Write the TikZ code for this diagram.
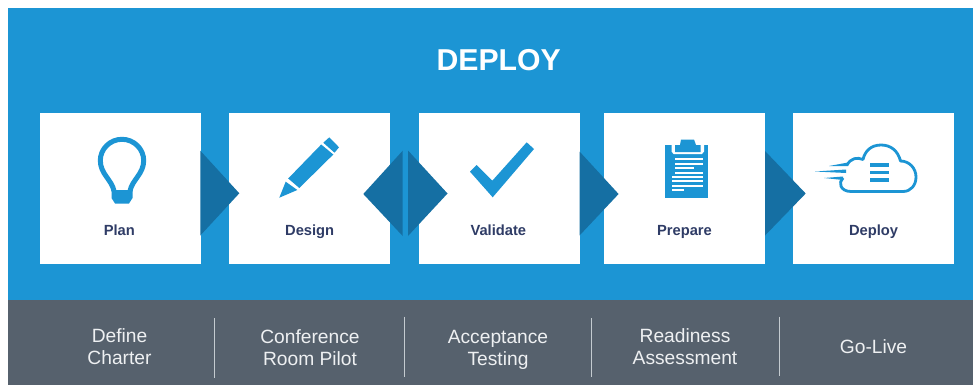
\documentclass[tikz,border=0pt]{standalone}
\usepackage{fontspec}
\setmainfont{Liberation Sans}
\definecolor{panelblue}{HTML}{1C95D4}
\definecolor{arrowblue}{HTML}{156FA3}
\definecolor{bargray}{HTML}{56616D}
\definecolor{labelnavy}{HTML}{2F3C66}
\definecolor{sepgray}{HTML}{C4CBD0}
\definecolor{bartext}{HTML}{EEF0F2}
\tikzset{
  cardbox/.style={fill=white,draw=none,minimum width=160.5pt,minimum height=151pt,inner sep=0pt,anchor=north west},
  cardlabel/.style={text=labelnavy,font=\fontsize{14.7}{16}\selectfont\bfseries,inner sep=0pt,anchor=base},
  barlabel/.style={text=bartext,font=\fontsize{19.2}{21.7}\selectfont,align=center,inner sep=0pt,anchor=base},
  chevron/.style={fill=arrowblue,draw=none},
  iconfill/.style={fill=panelblue,draw=none},
  iconline/.style={draw=panelblue,fill=none},
  sepline/.style={draw=sepgray,line width=1pt}
}
\begin{document}
\begin{tikzpicture}[x=1pt,y=-1pt]
\useasboundingbox (0,0) rectangle (973,385);
\fill[white] (0,0) rectangle (973,385);
\fill[panelblue] (8,8) rectangle (973,300);
\fill[bargray] (8,299.5) rectangle (973,385);
\node[text=white,font=\fontsize{30.2}{34}\selectfont\bfseries,inner sep=0pt,anchor=base] (title) at (498.7,71) {DEPLOY};
% cards
\node[cardbox] (c1) at (40,112.7) {};
\node[cardbox] (c2) at (228.8,112.7) {};
\node[cardbox] (c3) at (419,112.7) {};
\node[cardbox] (c4) at (604,112.7) {};
\node[cardbox] (c5) at (793,112.7) {};
% chevrons
\fill[chevron] (200.3,150.7) -- (239.3,193.3) -- (200.3,235.5) -- cycle;
\fill[chevron] (402.7,150.7) -- (363.3,194) -- (402.7,236) -- cycle;
\fill[chevron] (408,150.5) -- (447.5,193.5) -- (408,236) -- cycle;
\fill[chevron] (579.5,151.5) -- (618.6,194) -- (579.5,235.5) -- cycle;
\fill[chevron] (765,151) -- (805.7,193.5) -- (765,235.5) -- cycle;
% labels
\node[cardlabel] (l1) at (119.3,235) {Plan};
\node[cardlabel] (l2) at (309.7,235) {Design};
\node[cardlabel] (l3) at (498.3,235) {Validate};
\node[cardlabel] (l4) at (684.5,235) {Prepare};
\node[cardlabel] (l5) at (873.5,235) {Deploy};
% bulb
\draw[iconline,line width=5pt,line join=round]
  (114,191) .. controls (112,180) and (100.3,174) .. (100.3,160.5)
  .. controls (100.3,149) and (110,139.3) .. (122,139.3)
  .. controls (134,139.3) and (143.7,149) .. (143.7,160.5)
  .. controls (143.7,174) and (132,180) .. (130,191);
\fill[iconfill] (111.5,190) -- (132.5,190) -- (132.5,198) -- (129,203.5) -- (115,203.5) -- (111.5,198) -- cycle;
% pencil
\fill[iconfill] (321.2,144.5) -- (333.3,154.5) -- (299.3,188) -- (288.2,178.5) -- cycle;
\fill[iconfill] (329.3,137.3) -- (339,147.3) -- (334.5,152.7) -- (323.3,142.7) -- cycle;
\fill[iconfill] (285.7,181.7) -- (297.3,190) -- (279.3,197.7) -- cycle;
% check
\fill[iconfill] (470,171.7) -- (476.7,165) -- (492.3,180.7) -- (526.7,142.3) -- (534,149) -- (492.7,197.3) -- cycle;
% clipboard
\fill[iconfill] (665,145) rectangle (708.3,198.3);
\fill[white] (671.5,145) -- (704,145) -- (704,151.5) -- (702,154) -- (673.5,154) -- (671.5,151.5) -- cycle;
\fill[iconfill] (675,145) -- (680,145) -- (681,139.5) -- (694,139.5) -- (696,145) -- (700.5,145) -- (700.5,152) -- (675,152) -- cycle;
\foreach \xa/\xb/\yy in {675/702.7/159.3,675/702.7/164,675/693.5/168.3,675/702.7/172.7,672/702.7/177,672/702.7/181.3,672/702.7/185.7,672/683.5/190}{
  \draw[white,line width=2pt] (\xa,\yy) -- (\xb,\yy);}
% cloud
\draw[iconline,line width=2.8pt,line join=round]
  (843,178) .. controls (838,182) and (840,191.5) .. (851,191.5)
  -- (903,191.5) .. controls (911,191.5) and (916,185) .. (916,177)
  .. controls (916,168) and (909,161) .. (900.5,161)
  .. controls (898,151) and (891,145) .. (881,145)
  .. controls (871,145) and (865,151) .. (863,159.5)
  .. controls (857,157) and (851,158) .. (847,165);
\fill[iconfill] (848,162.5) -- (848,166) -- (829,166) -- cycle;
\fill[iconfill] (846,169.5) -- (846,173) -- (815,171.5) -- cycle;
\fill[iconfill] (843,176.5) -- (843,180) -- (824,178) -- cycle;
\foreach \yy in {163.2,170.5,178}{\fill[iconfill] (870,\yy) rectangle (888.7,\yy+3.5);}
% separators
\draw[sepline] (214,318) -- (214,377.5);
\draw[sepline] (404.5,316.7) -- (404.5,377);
\draw[sepline] (591.5,318) -- (591.5,377);
\draw[sepline] (779.5,316.7) -- (779.5,376);
% bar labels
\node[barlabel] (b1) at (119.5,364) {Define\\Charter};
\node[barlabel] (b2) at (310,365) {Conference\\Room Pilot};
\node[barlabel] (b3) at (498,365) {Acceptance\\Testing};
\node[barlabel] (b4) at (685,364) {Readiness\\Assessment};
\node[barlabel] (b5) at (873.5,353) {Go-Live};
\end{tikzpicture}
\end{document}
